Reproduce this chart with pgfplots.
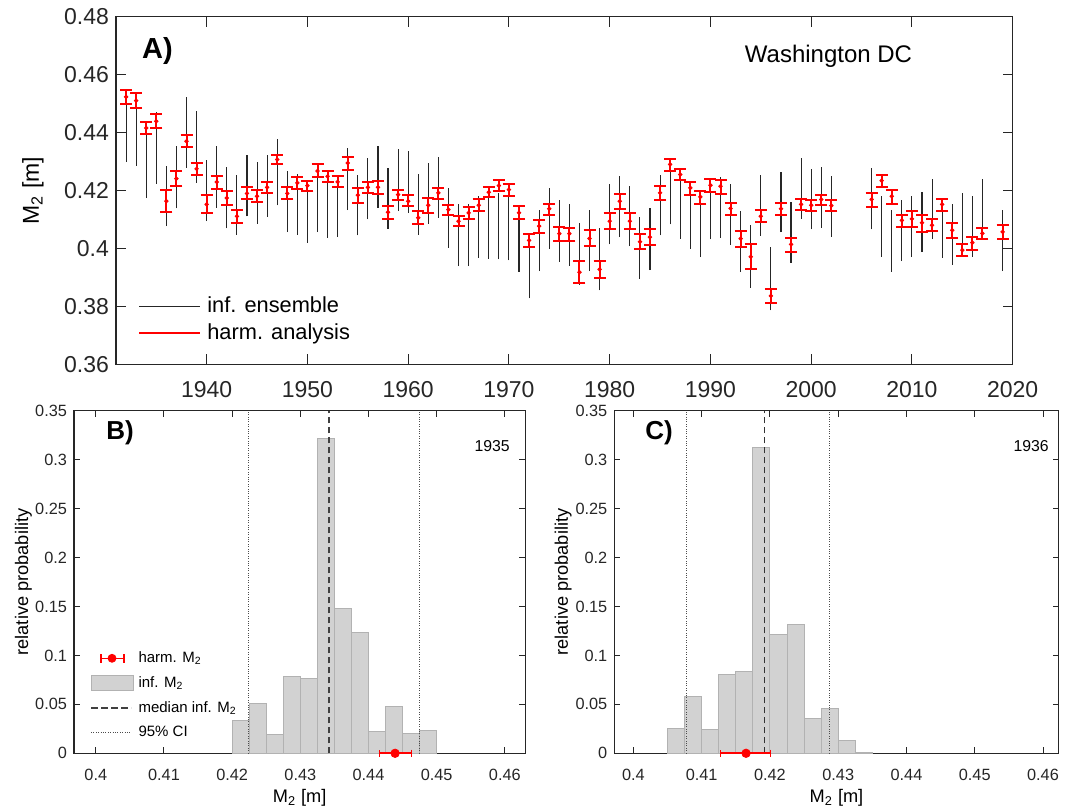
\documentclass[border=0pt]{standalone}
\usepackage{fontspec}
\setmainfont{Liberation Sans}
\usepackage{pgfplots}
\usepackage{pgfplotstable}
\pgfplotsset{compat=1.18}

\definecolor{axgray}{RGB}{38,38,38}
\definecolor{histfill}{RGB}{210,210,210}
\definecolor{histedge}{RGB}{178,178,178}

\pgfplotstableread{
yr c rlo rhi elo ehi
1932 .4523 .4499 .4548 .4298 .4520
1933 .4510 .4485 .4537 .4286 .4505
1934 .4416 .4394 .4438 .4174 .4420
1935 .4439 .4416 .4464 .4224 .4471
1936 .4163 .4126 .4200 .4077 .4286
1937 .4241 .4215 .4269 .4138 .4353
1938 .4370 .4351 .4390 .4278 .4523
1939 .4275 .4253 .4295 .4226 .4474
1940 .4152 .4121 .4183 .4094 .4307
1941 .4229 .4206 .4249 .4140 .4355
1942 .4174 .4149 .4198 .4069 .4280
1943 .4111 .4089 .4134 .4048 .4255
1944 .4190 .4169 .4213 .4111 .4324
1945 .4180 .4160 .4200 .4086 .4298
1946 .4211 .4190 .4230 .4109 .4321
1947 .4307 .4290 .4324 .4149 .4379
1948 .4190 .4169 .4213 .4056 .4267
1949 .4226 .4206 .4247 .4048 .4257
1950 .4217 .4198 .4234 .4020 .4230
1951 .4267 .4246 .4290 .4056 .4270
1952 .4249 .4229 .4269 .4037 .4250
1953 .4230 .4211 .4249 .4040 .4235
1954 .4295 .4272 .4316 .4132 .4347
1955 .4184 .4157 .4207 .4045 .4252
1956 .4211 .4192 .4230 .4100 .4313
1957 .4211 .4189 .4234 .4140 .4355
1958 .4125 .4103 .4146 .4068 .4276
1959 .4186 .4166 .4203 .4129 .4344
1960 .4163 .4146 .4183 .4123 .4336
1961 .4106 .4083 .4129 .4048 .4257
1962 .4149 .4121 .4175 .4085 .4295
1963 .4192 .4171 .4209 .4106 .4316
1964 .4134 .4117 .4149 .4002 .4209
1965 .4094 .4077 .4111 .3939 .4152
1966 .4123 .4103 .4143 .3939 .4152
1967 .4149 .4129 .4169 .3968 .4180
1968 .4194 .4177 .4213 .3964 .4203
1969 .4217 .4198 .4236 .3962 .4190
1970 .4203 .4180 .4223 .3959 .4185
1971 .4123 .4100 .4146 .3920 .4110
1972 .4028 .4006 .4051 .3828 .4030
1973 .4077 .4054 .4097 .3922 .4134
1974 .4137 .4114 .4155 .3999 .4207
1975 .4051 .4025 .4074 .3954 .4166
1976 .4051 .4025 .4071 .3941 .4152
1977 .3918 .3882 .3956 .3874 .4089
1978 .4034 .4008 .4063 .3922 .4134
1979 .3928 .3899 .3956 .3855 .4071
1980 .4094 .4066 .4123 .4014 .4221
1981 .4163 .4137 .4189 .4039 .4249
1982 .4094 .4066 .4123 .4008 .4217
1983 .4023 .3997 .4051 .3895 .4109
1984 .4039 .4011 .4066 .3925 .4140
1985 .4192 .4167 .4215 .4045 .4253
1986 .4290 .4267 .4310 .4083 .4285
1987 .4255 .4236 .4275 .4033 .4240
1988 .4209 .4183 .4229 .3999 .4200
1989 .4178 .4152 .4198 .3970 .4160
1990 .4218 .4194 .4240 .4031 .4200
1991 .4215 .4189 .4236 .4037 .4246
1992 .4138 .4117 .4157 .4011 .4221
1993 .4034 .4006 .4060 .3918 .4129
1994 .3971 .3930 .4014 .3864 .4080
1995 .4111 .4091 .4131 .4043 .4252
1996 .3836 .3813 .3859 .3786 .4006
1997 .4137 .4114 .4157 .4056 .4264
1998 .4014 .3987 .4037 .3951 .4161
1999 .4152 .4131 .4171 .4102 .4313
2000 .4149 .4129 .4167 .4066 .4275
2001 .4169 .4149 .4184 .4071 .4282
2002 .4148 .4129 .4166 .4040 .4249
2006 .4169 .4143 .4192 .4066 .4276
2007 .4234 .4211 .4255 .3971 .4180
2008 .4180 .4154 .4203 .3920 .4131
2009 .4097 .4074 .4117 .3956 .4166
2010 .4102 .4074 .4129 .3970 .4180
2011 .4089 .4057 .4117 .3987 .4195
2012 .4080 .4060 .4100 .4033 .4241
2013 .4152 .4129 .4172 .3968 .4140
2014 .4063 .4037 .4089 .3943 .4154
2015 .3994 .3974 .4016 .3982 .4192
2016 .4020 .3994 .4039 .3971 .4180
2017 .4052 .4031 .4069 .4031 .4240
2019 .4057 .4031 .4080 .3922 .4132
}\Mdata

\pgfplotsset{
  matlab/.style={
    scale only axis,
    axis line style={axgray, line width=0.55pt},
    every tick/.style={axgray, line width=0.5pt},
    tick align=inside,
    /pgf/number format/assume math mode=true,
    tick label style={text=axgray},
    label style={text=axgray},
    legend cell align=left,
  }
}

\begin{document}
\begin{tikzpicture}
\path[use as bounding box] (0pt,0pt) rectangle (536.5pt,405pt);

% ---------------- Panel A ----------------
\begin{axis}[matlab, at={(58pt,222.85pt)}, anchor=south west,
  width=448.35pt, height=173.8pt,
  xmin=1931, xmax=2020, ymin=0.36, ymax=0.48,
  xtick={1940,1950,...,2020},
  ytick={0.36,0.38,0.40,0.42,0.44,0.46,0.48},
  major tick length=5pt,
  tick label style={font=\fontsize{11.5}{13}\selectfont},
  xticklabel style={/pgf/number format/1000 sep={}, yshift=-5pt},
  yticklabel style={/pgf/number format/fixed, /pgf/number format/precision=2},
  ylabel={M\textsubscript{2} [m]},
  every axis y label/.style={at={(axis description cs:-0.0926,0.5)}, rotate=90, anchor=center},
  ylabel style={font=\fontsize{11.5}{13}\selectfont},
  legend image code/.code={\draw[#1] (0pt,0pt) -- (30.5pt,0pt);},
  legend style={draw=none, fill=none, at={(axis description cs:0.0245,0.1965)}, anchor=north west,
    inner sep=0pt, row sep=2.65pt, column sep=3pt, font=\fontsize{10.9}{13}\selectfont,
    nodes={inner sep=0pt, text height=8.2pt, text depth=2.3pt}},
]
\addplot[draw=none, mark=none, forget plot,
  error bars/.cd, y dir=plus, y explicit, error mark=none,
  error bar style={draw=axgray, solid, line width=0.55pt}]
  table[x=yr, y=elo, y error expr=\thisrow{ehi}-\thisrow{elo}] {\Mdata};
\addplot[red, only marks, mark=*, mark size=0.9pt, forget plot,
  error bars/.cd, y dir=both, y explicit,
  error bar style={red, line width=1pt},
  error mark options={rotate=90, red, line width=1pt, mark size=3pt}]
  table[x=yr, y=c, y error plus expr=\thisrow{rhi}-\thisrow{c}, y error minus expr=\thisrow{c}-\thisrow{rlo}] {\Mdata};
\addlegendimage{axgray, line width=0.55pt}
\addlegendentry{inf. ensemble}
\addlegendimage{red, line width=1pt}
\addlegendentry{harm. analysis}
\node[anchor=base west, font=\bfseries\fontsize{14.5}{16}\selectfont] at (axis description cs:0.0212,0.881) {A)};
\node[anchor=base, font=\fontsize{12}{14}\selectfont] at (axis description cs:0.7946,0.8688) {Washington DC};
\end{axis}

% ---------------- Panel B ----------------
\begin{axis}[matlab, at={(37pt,28.35pt)}, anchor=south west,
  width=225.65pt, height=171.3pt,
  xmin=0.3968, xmax=0.463, ymin=0, ymax=0.35, clip=false,
  xtick={0.4,0.41,0.42,0.43,0.44,0.45,0.46},
  ytick={0,0.05,0.1,0.15,0.2,0.25,0.3,0.35},
  major tick length=3pt,
  tick label style={font=\fontsize{8.15}{10}\selectfont, /pgf/number format/fixed, /pgf/number format/precision=2},
  xticklabel style={yshift=-4.5pt},
  ylabel={relative probability}, xlabel={M\textsubscript{2} [m]},
  every axis y label/.style={at={(axis description cs:-0.112,0.5)}, rotate=90, anchor=center},
  every axis x label/.style={at={(axis description cs:0.5,-0.145)}, anchor=base},
  label style={font=\fontsize{9.1}{11}\selectfont},
  legend style={draw=none, fill=none, at={(axis description cs:0.0355,0.2995)}, anchor=north west,
    inner sep=0pt, row sep=5pt, column sep=2.5pt, font=\fontsize{7.5}{9}\selectfont,
    nodes={inner sep=0pt, text height=5.6pt, text depth=1.6pt}},
]
\addplot[ybar interval, fill=histfill, draw=histedge, line width=0.5pt, forget plot] coordinates {
(0.42,0.0331)(0.4225,0.0511)(0.425,0.0187)(0.4275,0.0780)(0.43,0.0760)(0.4325,0.3214)
(0.435,0.1483)(0.4375,0.1234)(0.44,0.0222)(0.4425,0.0481)(0.445,0.0198)(0.4475,0.0228)(0.45,0.0228)};
\addplot[forget plot, black!75, line width=0.6pt, dash pattern=on 3.25pt off 1.75pt] coordinates {(0.4342,0)(0.4342,0.35)};
\addplot[forget plot, black!70, line width=0.4pt, dash pattern=on 0.4pt off 0.8pt] coordinates {(0.4224,0)(0.4224,0.35)};
\addplot[forget plot, black!70, line width=0.4pt, dash pattern=on 0.4pt off 0.8pt] coordinates {(0.4474,0)(0.4474,0.35)};
\addlegendimage{legend image code/.code={
  \draw[red, line width=0.6pt] (5pt,0pt) -- (16.5pt,0pt);
  \draw[red, line width=0.6pt] (5pt,-2.2pt) -- (5pt,2.2pt);
  \draw[red, line width=0.6pt] (16.5pt,-2.2pt) -- (16.5pt,2.2pt);
  \fill[red] (10.5pt,0pt) circle (2pt);}}
\addlegendentry{harm. M\textsubscript{2}}
\addlegendimage{legend image code/.code={
  \draw[fill=histfill, draw=histedge, line width=0.5pt] (0pt,-3.6pt) rectangle (21pt,3.6pt);}}
\addlegendentry{inf. M\textsubscript{2}}
\addlegendimage{legend image code/.code={
  \draw[black!75, line width=0.6pt, dash pattern=on 3.25pt off 1.75pt] (0pt,0pt) -- (20pt,0pt);}}
\addlegendentry{median inf. M\textsubscript{2}}
\addlegendimage{legend image code/.code={
  \draw[black!70, line width=0.4pt, dash pattern=on 0.4pt off 0.8pt] (0pt,0pt) -- (20pt,0pt);}}
\addlegendentry{95\% CI}
\node[anchor=base west, font=\bfseries\fontsize{13}{15}\selectfont] at (axis description cs:0.056,0.9145) {B)};
\node[anchor=base east, font=\fontsize{7.9}{9}\selectfont] at (axis description cs:0.981,0.880) {1935};
\end{axis}
% overlay axis for the harmonic estimate (drawn above the axis line)
\begin{axis}[scale only axis, hide axis, at={(37pt,28.35pt)}, anchor=south west,
  width=225.65pt, height=171.3pt,
  xmin=0.3968, xmax=0.463, ymin=0, ymax=0.35, clip=false]
\addplot[red, only marks, mark=*, mark size=2.1pt,
  error bars/.cd, x dir=both, x explicit,
  error bar style={red, line width=1pt},
  error mark options={rotate=90, red, line width=0.7pt, mark size=1.8pt}]
  coordinates {(0.4439,0) += (0.0024,0) -= (0.0023,0)};
\end{axis}

% ---------------- Panel C ----------------
\begin{axis}[matlab, at={(307.15pt,28.35pt)}, anchor=south west,
  width=222.2pt, height=171.3pt,
  xmin=0.3972, xmax=0.4623, ymin=0, ymax=0.35, clip=false,
  xtick={0.4,0.41,0.42,0.43,0.44,0.45,0.46},
  ytick={0,0.05,0.1,0.15,0.2,0.25,0.3,0.35},
  major tick length=3pt,
  tick label style={font=\fontsize{8.15}{10}\selectfont, /pgf/number format/fixed, /pgf/number format/precision=2},
  xticklabel style={yshift=-4.5pt},
  ylabel={relative probability}, xlabel={M\textsubscript{2} [m]},
  every axis y label/.style={at={(axis description cs:-0.115,0.5)}, rotate=90, anchor=center},
  every axis x label/.style={at={(axis description cs:0.5,-0.145)}, anchor=base},
  label style={font=\fontsize{9.1}{11}\selectfont},
]
\addplot[ybar interval, fill=histfill, draw=histedge, line width=0.5pt, forget plot] coordinates {
(0.405,0.0256)(0.4075,0.0576)(0.41,0.0239)(0.4125,0.0808)(0.415,0.0835)(0.4175,0.3129)
(0.42,0.1217)(0.4225,0.1316)(0.425,0.0358)(0.4275,0.0460)(0.43,0.0126)(0.4325,0.0010)(0.435,0.0010)};
\addplot[forget plot, black!80, line width=0.6pt, dash pattern=on 3.25pt off 1.75pt] coordinates {(0.4192,0)(0.4192,0.35)};
\addplot[forget plot, black!70, line width=0.4pt, dash pattern=on 0.4pt off 0.8pt] coordinates {(0.4077,0)(0.4077,0.35)};
\addplot[forget plot, black!70, line width=0.4pt, dash pattern=on 0.4pt off 0.8pt] coordinates {(0.4287,0)(0.4287,0.35)};
\node[anchor=base west, font=\bfseries\fontsize{13}{15}\selectfont] at (axis description cs:0.054,0.915) {C)};
\node[anchor=base east, font=\fontsize{7.9}{9}\selectfont] at (axis description cs:0.9933,0.881) {1936};
\end{axis}
\begin{axis}[scale only axis, hide axis, at={(307.15pt,28.35pt)}, anchor=south west,
  width=222.2pt, height=171.3pt,
  xmin=0.3972, xmax=0.4623, ymin=0, ymax=0.35, clip=false]
\addplot[red, only marks, mark=*, mark size=2.1pt,
  error bars/.cd, x dir=both, x explicit,
  error bar style={red, line width=1pt},
  error mark options={rotate=90, red, line width=0.7pt, mark size=1.8pt}]
  coordinates {(0.4165,0) += (0.0036,0) -= (0.0037,0)};
\end{axis}
\end{tikzpicture}
\end{document}
